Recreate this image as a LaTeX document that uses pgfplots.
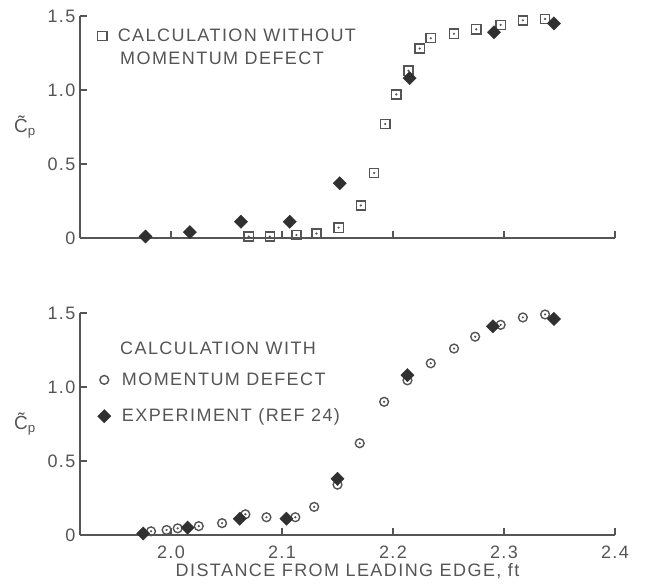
\documentclass[border=0pt]{standalone}
\usepackage{fontspec}
\setmainfont[LetterSpace=8]{Liberation Sans}
\usepackage{pgfplots}
\usepackage{pgfplotstable}
\pgfplotsset{compat=1.18}
\definecolor{ink}{HTML}{555555}
\definecolor{dark}{HTML}{303030}

\pgfplotstableread{
x y
2.070 0.01
2.089 0.01
2.113 0.02
2.131 0.03
2.151 0.07
2.171 0.22
2.183 0.44
2.193 0.77
2.203 0.97
2.214 1.13
2.224 1.28
2.234 1.35
2.255 1.38
2.275 1.41
2.297 1.44
2.317 1.47
2.337 1.48
}\topsquares

\pgfplotstableread{
x y
1.977 0.01
2.017 0.04
2.063 0.11
2.107 0.11
2.152 0.37
2.215 1.08
2.291 1.39
2.345 1.45
}\topexp

\pgfplotstableread{
x y
1.982 0.025
1.996 0.034
2.006 0.045
2.025 0.06
2.046 0.08
2.067 0.14
2.086 0.12
2.112 0.12
2.129 0.19
2.150 0.34
2.170 0.62
2.192 0.90
2.213 1.045
2.234 1.16
2.255 1.26
2.274 1.34
2.297 1.42
2.317 1.47
2.337 1.49
}\botcircles

\pgfplotstableread{
x y
1.975 0.01
2.015 0.05
2.062 0.11
2.104 0.11
2.150 0.38
2.213 1.08
2.290 1.41
2.345 1.46
}\botexp

\newcommand{\cplabel}{\hspace*{0.22em}\char"02DC\\[-19pt]C\textsubscript{p}}

\pgfplotsset{
  panel/.style={
    scale only axis, width=535pt, height=222pt,
    xmin=1.918, xmax=2.4, ymin=0, ymax=1.5,
    axis lines=left,
    axis line style={ink, line width=1.3pt, -},
    tick align=inside, major tick length=7pt,
    tick style={ink, line width=1.3pt},
    xtick={2.0,2.1,2.2,2.3,2.4},
    ytick={0,0.5,1.0,1.5},
    yticklabels={0,0.5,1.0,1.5},
    every tick label/.append style={font=\fontsize{18}{20}\selectfont, text=ink},
    yticklabel style={xshift=-1pt},
    xticklabel style={yshift=-7pt},
    clip=false,
    every axis y label/.style={at={(axis description cs:0,0.5)}, anchor=center, align=left, xshift=-55pt, font=\fontsize{19}{22}\selectfont, text=ink},
    legend style={draw=none, fill=none, font=\fontsize{18}{20}\selectfont, text=ink, row sep=18pt, column sep=9pt, legend cell align=left},
  },
  sqr/.style={only marks, mark=square, mark size=4.6pt, mark options={draw=ink, line width=1.4pt}},
  circ/.style={only marks, mark=o, mark size=4.4pt, mark options={draw=ink, line width=1.4pt}},
  dots/.style={only marks, mark=*, mark size=0.9pt, mark options={draw=ink, fill=ink}, forget plot},
  expm/.style={only marks, mark=square*, mark size=4.7pt, mark options={rotate=45, draw=dark, fill=dark}},
}

\begin{document}
\begin{tikzpicture}
\path (-80pt,-53pt) rectangle (565pt,535pt);
% top panel
\begin{axis}[panel, at={(0pt,297pt)}, anchor=south west,
  xticklabels={},
  ylabel={\cplabel},
  legend style={at={(axis cs:1.931,1.365)}, anchor=west}]
\addplot[sqr] table {\topsquares};
\addlegendentry{CALCULATION WITHOUT}
\addplot[dots] table {\topsquares};
\addplot[expm, forget plot] table {\topexp};
\node[anchor=west, font=\fontsize{18}{20}\selectfont, text=ink, inner sep=0pt] at (axis cs:1.954,1.217) {MOMENTUM DEFECT};
\end{axis}
% bottom panel
\begin{axis}[panel, at={(0pt,0pt)}, anchor=south west,
  xticklabels={2.0,2.1,2.2,2.3,2.4},
  xlabel={DISTANCE FROM LEADING EDGE, ft},
  xlabel style={font=\fontsize{18}{20}\selectfont, text=ink, yshift=2pt},
  ylabel={\cplabel},
  legend style={at={(axis cs:1.931,1.07)}, anchor=north west, yshift=8pt}]
\addplot[circ] table {\botcircles};
\addlegendentry{MOMENTUM DEFECT}
\addplot[dots] table {\botcircles};
\addplot[expm] table {\botexp};
\addlegendentry{EXPERIMENT (REF 24)}
\node[anchor=west, font=\fontsize{18}{20}\selectfont, text=ink, inner sep=0pt] at (axis cs:1.954,1.26) {CALCULATION WITH};
\end{axis}
\end{tikzpicture}
\end{document}
